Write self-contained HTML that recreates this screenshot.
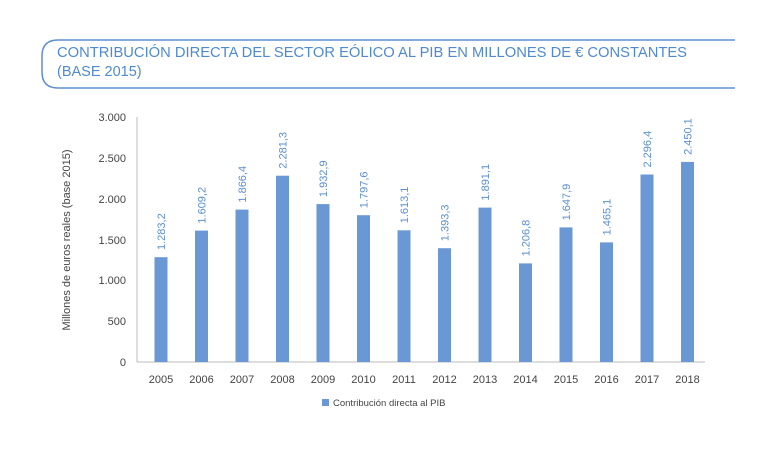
<!DOCTYPE html>
<html><head><meta charset="utf-8"><style>
body{margin:0;background:#fff;width:768px;height:451px;overflow:hidden;font-family:"Liberation Sans",sans-serif}
</style></head><body>
<svg width="768" height="451" xmlns="http://www.w3.org/2000/svg" font-family="Liberation Sans, sans-serif">
<path d="M735 40 H58 Q42 40 42 56 V72 Q42 88 58 88 H735" fill="none" stroke="#5b8fd0" stroke-width="1.5"/>
<text x="57" y="57" font-size="14.5" fill="#4f8ad0" textLength="630" lengthAdjust="spacingAndGlyphs">CONTRIBUCIÓN DIRECTA DEL SECTOR EÓLICO AL PIB EN MILLONES DE € CONSTANTES</text>
<text x="57" y="76" font-size="14.5" fill="#4f8ad0">(BASE 2015)</text>
<g font-size="11" fill="#444" text-anchor="end">
<text x="126" y="121">3.000</text><text x="126" y="162">2.500</text><text x="126" y="203">2.000</text>
<text x="126" y="244">1.500</text><text x="126" y="284">1.000</text><text x="126" y="325">500</text><text x="126" y="366">0</text>
</g>
<line x1="137" y1="117" x2="137" y2="362" stroke="#bbb"/>
<line x1="137" y1="362" x2="705" y2="362" stroke="#bbb"/>
<text transform="translate(70,240) rotate(-90)" font-size="11" fill="#444" text-anchor="middle">Millones de euros reales (base 2015)</text>
<g fill="#6a98d4">
<rect x="154.5" y="257.2" width="13" height="104.8"/>
<rect x="195" y="230.6" width="13" height="131.4"/>
<rect x="235.5" y="209.6" width="13" height="152.4"/>
<rect x="276" y="175.7" width="13" height="186.3"/>
<rect x="316.5" y="204.1" width="13" height="157.9"/>
<rect x="357" y="215.2" width="13" height="146.8"/>
<rect x="397.5" y="230.3" width="13" height="131.7"/>
<rect x="438" y="248.2" width="13" height="113.8"/>
<rect x="478.5" y="207.6" width="13" height="154.4"/>
<rect x="519" y="263.4" width="13" height="98.6"/>
<rect x="559.5" y="227.4" width="13" height="134.6"/>
<rect x="600" y="242.4" width="13" height="119.6"/>
<rect x="640.5" y="174.5" width="13" height="187.5"/>
<rect x="681" y="161.9" width="13" height="200.1"/>
</g>
<g font-size="11" fill="#5b8fd0">
<text transform="translate(165,250) rotate(-90)">1.283,2</text>
<text transform="translate(205.5,223.6) rotate(-90)">1.609,2</text>
<text transform="translate(246,202.6) rotate(-90)">1.866,4</text>
<text transform="translate(286.5,168.7) rotate(-90)">2.281,3</text>
<text transform="translate(327,197.1) rotate(-90)">1.932,9</text>
<text transform="translate(367.5,208.2) rotate(-90)">1.797,6</text>
<text transform="translate(408,223.3) rotate(-90)">1.613,1</text>
<text transform="translate(448.5,241.2) rotate(-90)">1.393,3</text>
<text transform="translate(489,200.6) rotate(-90)">1.891,1</text>
<text transform="translate(529.5,256.4) rotate(-90)">1.206,8</text>
<text transform="translate(570,220.4) rotate(-90)">1.647,9</text>
<text transform="translate(610.5,235.4) rotate(-90)">1.465,1</text>
<text transform="translate(651,167.5) rotate(-90)">2.296,4</text>
<text transform="translate(691.5,154.9) rotate(-90)">2.450,1</text>
</g>
<g font-size="11" fill="#444" text-anchor="middle">
<text x="161" y="383">2005</text><text x="201.5" y="383">2006</text><text x="242" y="383">2007</text>
<text x="282.5" y="383">2008</text><text x="323" y="383">2009</text><text x="363.5" y="383">2010</text>
<text x="404" y="383">2011</text><text x="444.5" y="383">2012</text><text x="485" y="383">2013</text>
<text x="525.5" y="383">2014</text><text x="566" y="383">2015</text><text x="606.5" y="383">2016</text>
<text x="647" y="383">2017</text><text x="687.5" y="383">2018</text>
</g>
<rect x="322" y="399" width="7" height="7" fill="#6a98d4"/>
<text x="333" y="406" font-size="9.5" fill="#444">Contribución directa al PIB</text>
</svg>
</body></html>
